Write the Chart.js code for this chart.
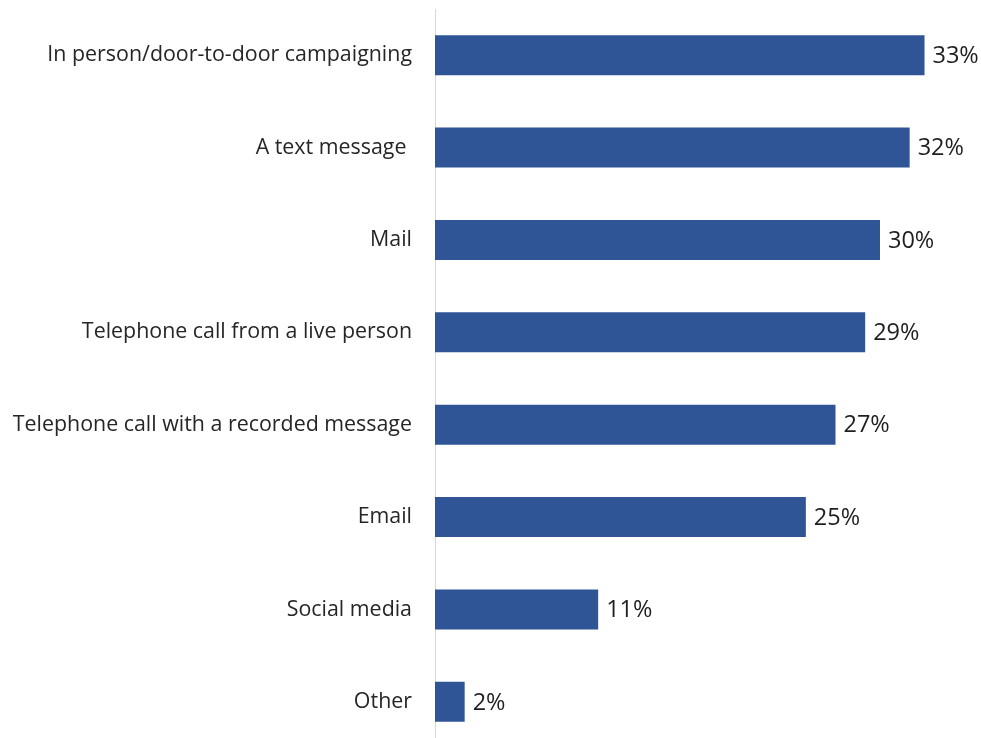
<!DOCTYPE html>
<html><head><meta charset="utf-8">
<script src="https://cdn.jsdelivr.net/npm/chart.js@4"></script>
<style>html,body{margin:0;padding:0;background:#fff;overflow:hidden;}canvas{display:block;}</style>
</head><body><canvas id="c" width="981" height="750" style="width:981px;height:750px"></canvas>
<script>
const categories = ["In person/door-to-door campaigning","A text message ","Mail","Telephone call from a live person","Telephone call with a recorded message","Email","Social media","Other"];
const values = [33,32,30,29,27,25,11,2];
const valueLabels = ["33%","32%","30%","29%","27%","25%","11%","2%"];

const labelPlugin = {
  id:'vlabels',
  afterDatasetsDraw(chart){
    const ctx = chart.ctx;
    const meta = chart.getDatasetMeta(0);
    ctx.save();
    ctx.font = '23.5px "Open Sans"';
    ctx.fillStyle = '#1f1f1f';
    ctx.textAlign = 'left';
    ctx.textBaseline = 'middle';
    meta.data.forEach((bar,i)=>{
      ctx.fillText(valueLabels[i], bar.x + 8, bar.y + 1);
    });
    ctx.restore();
  }
};

new Chart(document.getElementById('c'), {
  type:'bar',
  data:{labels:categories, datasets:[{data:values, backgroundColor:'#2F5597', borderWidth:0, barPercentage:0.433, categoryPercentage:1}]},
  options:{
    indexAxis:'y', responsive:false, animation:false,
    layout:{padding:{top:9,bottom:2,left:0,right:12}},
    plugins:{legend:{display:false}, tooltip:{enabled:false}},
    scales:{
      x:{display:false, min:0, max:36},
      y:{
        afterFit(s){ s.width = 435; s.paddingTop = 0; s.paddingBottom = 0; },
        grid:{display:false, drawTicks:false},
        border:{display:true, color:'#d9d9d9', width:1},
        ticks:{color:'#262626', font:{family:'Open Sans', size:21.4}, padding:23}
      }
    }
  },
  plugins:[labelPlugin]
});
</script></body></html>
